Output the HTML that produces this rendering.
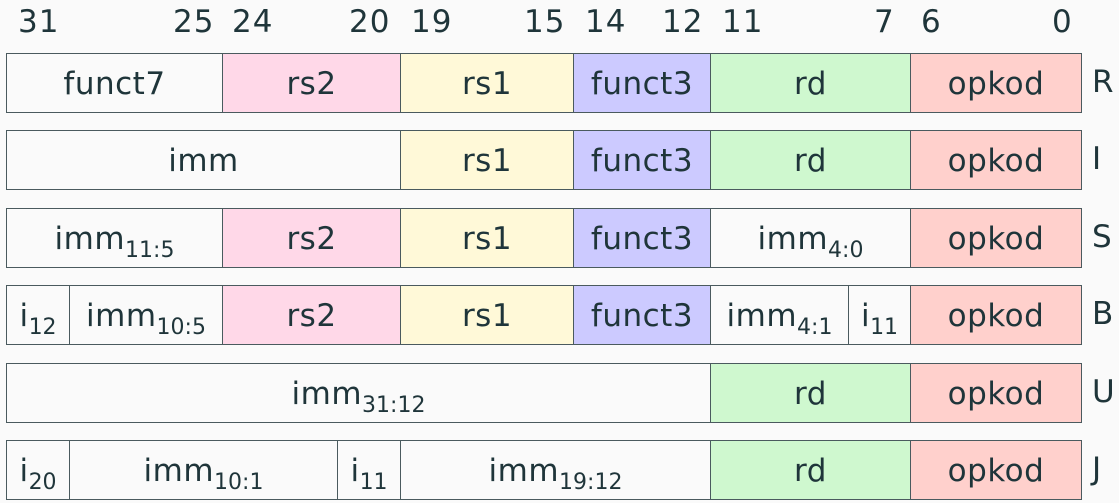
<!DOCTYPE html>
<html><head><meta charset="utf-8"><style>
body{margin:0;width:1119px;height:503px;background:#fafafa;font-family:"DejaVu Sans","Liberation Sans",sans-serif;color:#1f353a;position:relative;overflow:hidden}
.c{position:absolute;box-sizing:border-box;border:1.5px solid #4a5a5e;display:flex;align-items:center;justify-content:center;font-size:31px;white-space:nowrap;letter-spacing:0.5px}
.c span{display:block;line-height:40px;padding-top:2px}
.n{position:absolute;top:0px;font-size:31px;line-height:44px;letter-spacing:1px}
.l{position:absolute;left:1092px;font-size:31px;line-height:59px}
sub{font-size:22px;position:relative;top:8px;vertical-align:baseline;line-height:0;letter-spacing:0}
.w{background:#fafafa}.p{background:#ffd8e8}.y{background:#fff9d8}.b{background:#cccaff}.g{background:#cff8cf}.r{background:#ffd0cc}
</style></head><body>
<div class="n" style="left:18px">31</div>
<div class="n" style="left:173px">25</div>
<div class="n" style="left:232px">24</div>
<div class="n" style="left:349px">20</div>
<div class="n" style="left:411px">19</div>
<div class="n" style="left:524px">15</div>
<div class="n" style="left:585px">14</div>
<div class="n" style="left:662px">12</div>
<div class="n" style="left:722px">11</div>
<div class="n" style="left:874px">7</div>
<div class="n" style="left:921px">6</div>
<div class="n" style="left:1052px">0</div>

<div class="c w" style="left:6px;top:53px;width:217px;height:60px"><span>funct7</span></div>
<div class="c p" style="left:222px;top:53px;width:179px;height:60px"><span>rs2</span></div>
<div class="c y" style="left:400px;top:53px;width:174px;height:60px"><span>rs1</span></div>
<div class="c b" style="left:573px;top:53px;width:138px;height:60px"><span>funct3</span></div>
<div class="c g" style="left:710px;top:53px;width:201px;height:60px"><span>rd</span></div>
<div class="c r" style="left:910px;top:53px;width:172px;height:60px"><span>opkod</span></div>
<div class="l" style="top:53px">R</div>

<div class="c w" style="left:6px;top:130px;width:395px;height:60px"><span>imm</span></div>
<div class="c y" style="left:400px;top:130px;width:174px;height:60px"><span>rs1</span></div>
<div class="c b" style="left:573px;top:130px;width:138px;height:60px"><span>funct3</span></div>
<div class="c g" style="left:710px;top:130px;width:201px;height:60px"><span>rd</span></div>
<div class="c r" style="left:910px;top:130px;width:172px;height:60px"><span>opkod</span></div>
<div class="l" style="top:130px">I</div>

<div class="c w" style="left:6px;top:208px;width:217px;height:60px"><span>imm<sub>11:5</sub></span></div>
<div class="c p" style="left:222px;top:208px;width:179px;height:60px"><span>rs2</span></div>
<div class="c y" style="left:400px;top:208px;width:174px;height:60px"><span>rs1</span></div>
<div class="c b" style="left:573px;top:208px;width:138px;height:60px"><span>funct3</span></div>
<div class="c w" style="left:710px;top:208px;width:201px;height:60px"><span>imm<sub>4:0</sub></span></div>
<div class="c r" style="left:910px;top:208px;width:172px;height:60px"><span>opkod</span></div>
<div class="l" style="top:208px">S</div>

<div class="c w" style="left:6px;top:285px;width:64px;height:60px"><span>i<sub>12</sub></span></div>
<div class="c w" style="left:69px;top:285px;width:154px;height:60px"><span>imm<sub>10:5</sub></span></div>
<div class="c p" style="left:222px;top:285px;width:179px;height:60px"><span>rs2</span></div>
<div class="c y" style="left:400px;top:285px;width:174px;height:60px"><span>rs1</span></div>
<div class="c b" style="left:573px;top:285px;width:138px;height:60px"><span>funct3</span></div>
<div class="c w" style="left:710px;top:285px;width:139px;height:60px"><span>imm<sub>4:1</sub></span></div>
<div class="c w" style="left:848px;top:285px;width:63px;height:60px"><span>i<sub>11</sub></span></div>
<div class="c r" style="left:910px;top:285px;width:172px;height:60px"><span>opkod</span></div>
<div class="l" style="top:285px">B</div>

<div class="c w" style="left:6px;top:363px;width:705px;height:60px"><span>imm<sub>31:12</sub></span></div>
<div class="c g" style="left:710px;top:363px;width:201px;height:60px"><span>rd</span></div>
<div class="c r" style="left:910px;top:363px;width:172px;height:60px"><span>opkod</span></div>
<div class="l" style="top:363px">U</div>

<div class="c w" style="left:6px;top:440px;width:64px;height:60px"><span>i<sub>20</sub></span></div>
<div class="c w" style="left:69px;top:440px;width:269px;height:60px"><span>imm<sub>10:1</sub></span></div>
<div class="c w" style="left:337px;top:440px;width:64px;height:60px"><span>i<sub>11</sub></span></div>
<div class="c w" style="left:400px;top:440px;width:311px;height:60px"><span>imm<sub>19:12</sub></span></div>
<div class="c g" style="left:710px;top:440px;width:201px;height:60px"><span>rd</span></div>
<div class="c r" style="left:910px;top:440px;width:172px;height:60px"><span>opkod</span></div>
<div class="l" style="top:440px">J</div>
</body></html>
